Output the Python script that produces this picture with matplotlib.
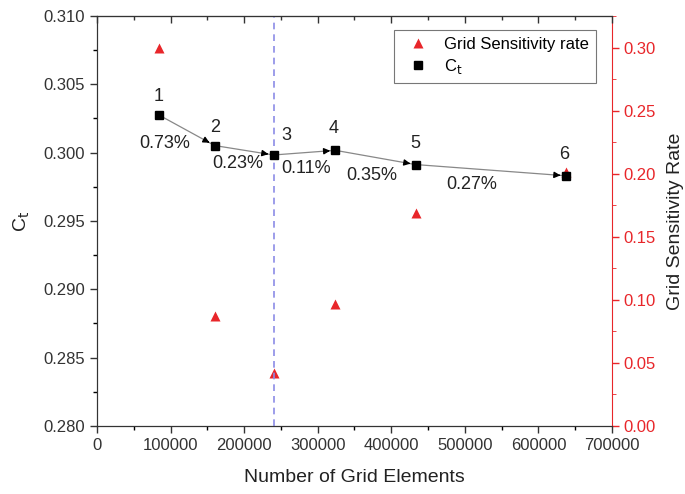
import matplotlib.pyplot as plt
from matplotlib.ticker import MultipleLocator

plt.rcParams['font.family'] = ['Liberation Sans', 'DejaVu Sans']

# grid refinement study
elements = [84000, 160000, 240000, 324000, 433000, 637000]
ct = [0.30276, 0.30052, 0.29983, 0.30017, 0.29913, 0.29831]
sensitivity = [0.300, 0.0875, 0.042, 0.097, 0.169, 0.201]
case_labels = ['1', '2', '3', '4', '5', '6']
change_labels = ['0.73%', '0.23%', '0.11%', '0.35%', '0.27%']
chosen_mesh = 240000

red = '#e8262a'

fig = plt.figure(figsize=(6.85, 4.94), dpi=100)
ax = fig.add_axes([0.1416, 0.1377, 0.7518, 0.8299])
ax2 = ax.twinx()

# sensitivity rate on the right axis
ax2.plot(elements, sensitivity, '^', color=red, ms=7, mec='none',
         label='Grid Sensitivity rate', zorder=2)
ax2.set_ylim(0, 0.325)
ax2.yaxis.set_major_locator(MultipleLocator(0.05))
ax2.yaxis.set_minor_locator(MultipleLocator(0.025))
ax2.yaxis.set_major_formatter(lambda v, p: f'{v:.2f}')
ax2.tick_params(axis='y', colors=red, labelsize=12, length=5, width=1)
ax2.tick_params(axis='y', which='minor', length=3, colors=red)
ax2.spines['right'].set_color(red)
ax2.set_ylabel('Grid Sensitivity Rate', fontsize=14, color='#222222', labelpad=8)

# thrust coefficient on the left axis, drawn over the triangles
ax.set_zorder(ax2.get_zorder() + 1)
ax.patch.set_visible(False)
ax.plot(elements, ct, '-', color='#888888', lw=0.9, zorder=2)
ax.plot(elements, ct, 's', color='black', ms=6, label=r'C$_\mathrm{t}$', zorder=4)
for i in range(1, len(elements)):
    x0, y0 = elements[i - 1], ct[i - 1]
    x1, y1 = elements[i], ct[i]
    frac = 0.88 if (x1 - x0) < 150000 else 0.94
    ax.annotate('', xy=(x1 - 7000, y1 + (y0 - y1) * 7000 / (x1 - x0)),
                xytext=(x0 + (x1 - x0) * frac, y0 + (y1 - y0) * frac),
                arrowprops=dict(arrowstyle='-|>', color='black', lw=1,
                                mutation_scale=9), zorder=3)

ax.axvline(chosen_mesh, color='#8c8ce6', ls=(0, (4, 3)), lw=1.2, zorder=1)

num_offsets = [(0, 13), (0, 13), (9, 14), (-1, 16), (0, 15), (-1, 15)]
for x, y, s, off in zip(elements, ct, case_labels, num_offsets):
    ax.annotate(s, (x, y), xytext=off, textcoords='offset points',
                ha='center', va='center', fontsize=13, color='#222222')

change_pos = [(92000, 0.30070), (191000, 0.29924), (284000, 0.29887),
              (373000, 0.29836), (509000, 0.29770)]
for (x, y), s in zip(change_pos, change_labels):
    ax.text(x, y, s, ha='center', va='center', fontsize=13, color='#222222')

ax.set_xlim(0, 700000)
ax.set_ylim(0.280, 0.310)
ax.xaxis.set_major_locator(MultipleLocator(100000))
ax.xaxis.set_minor_locator(MultipleLocator(50000))
ax.yaxis.set_major_locator(MultipleLocator(0.005))
ax.yaxis.set_minor_locator(MultipleLocator(0.0025))
ax.yaxis.set_major_formatter(lambda v, p: f'{v:.3f}')
ax.tick_params(axis='both', labelsize=12, length=5, width=1, colors='#333333',
               labelcolor='#333333')
ax.tick_params(which='minor', length=3, width=1)

# top axis: inward ticks, no labels
top = ax.secondary_xaxis('top')
top.xaxis.set_major_locator(MultipleLocator(100000))
top.xaxis.set_minor_locator(MultipleLocator(50000))
top.tick_params(which='both', direction='in', labeltop=False, colors='#333333')
top.tick_params(which='major', length=5, width=1)
top.tick_params(which='minor', length=3, width=1)
top.spines['top'].set_color('#333333')
for side in ['left', 'bottom', 'top']:
    ax.spines[side].set_color('#333333')
ax.spines['right'].set_visible(False)
ax2.spines['left'].set_color('#333333')
ax2.spines['top'].set_color('#333333')

ax.set_xlabel('Number of Grid Elements', fontsize=14, color='#222222', labelpad=12)
ax.set_ylabel(r'C$_\mathrm{t}$', fontsize=14, color='#222222', labelpad=8)

h2, l2 = ax2.get_legend_handles_labels()
h1, l1 = ax.get_legend_handles_labels()
leg = ax.legend(h2 + h1[-1:], l2 + l1[-1:], loc='upper right',
                bbox_to_anchor=(0.985, 0.985), fontsize=12, frameon=True,
                fancybox=False, edgecolor='#555555', handletextpad=0.6,
                borderpad=0.4, labelspacing=0.3)
leg.get_frame().set_linewidth(0.8)

fig.savefig('out.png', dpi=100)
